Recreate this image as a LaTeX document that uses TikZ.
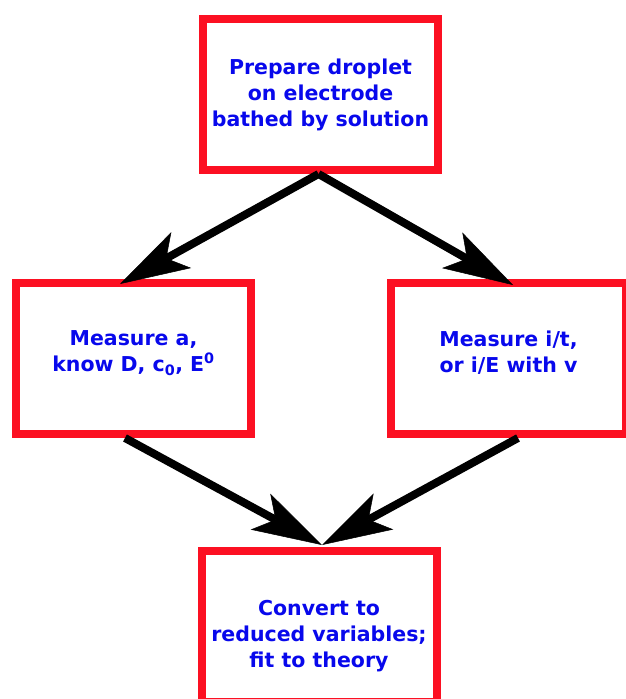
\documentclass[tikz,border=0pt]{standalone}
\usepackage{fontspec}
\setmainfont{DejaVu Sans}
\usetikzlibrary{arrows.meta}
\definecolor{boxred}{RGB}{252,16,34}
\definecolor{textblue}{RGB}{8,8,236}

\tikzset{%
  % Specifications for style of nodes:
         stage/.style = {rectangle, draw = boxred, line width=8pt, minimum width=235pt, minimum height=151pt, fill=white, text=textblue, font=\fontsize{20.5}{26}\selectfont\bfseries},
  % Specifications for style of arrows:
          flow/.style = {-{Stealth[length=70pt, width=41pt, inset=17pt, line width=0.5pt]}, line width=8pt},
}

\begin{document}
\begin{tikzpicture}[node distance=264pt, align=center]
    \useasboundingbox (0,0) rectangle (625pt,-699pt);
    % Draw nodes
    \node (prepare)     [stage] at (320.5pt,-94.5pt)                       {Prepare droplet\\on electrode\\bathed by solution};
    \node (measa)       [stage, below of = prepare, xshift=-187pt, text height=41pt, text depth=15pt] {Measure a,\\know D, c\textsubscript{0}, E\textsuperscript{0}};
    \node (measi)       [stage, below of = prepare, xshift=188pt, text height=43pt, text depth=15pt]  {Measure i/t,\\or i/E with v};
    \node (convert)     [stage, node distance=532pt, below of = prepare, xshift=-1.5pt, text height=96pt, text depth=15pt] {Convert to\\reduced variables;\\fit to theory};

    % Draw arrows
    \draw[flow]   ([xshift=-2pt]prepare.south) -- ([xshift=-13.5pt,yshift=-5pt]measa.north);
    \draw[flow]   ([xshift=-2pt]prepare.south) -- ([xshift=4.5pt,yshift=-6pt]measi.north);

    \draw[flow]   ([xshift=-8.5pt]measa.south) -- ([xshift=3pt,yshift=2pt]convert.north);
    \draw[flow]   ([xshift=9.5pt]measi.south)  -- ([xshift=3pt,yshift=2pt]convert.north);

\end{tikzpicture}
\end{document}
